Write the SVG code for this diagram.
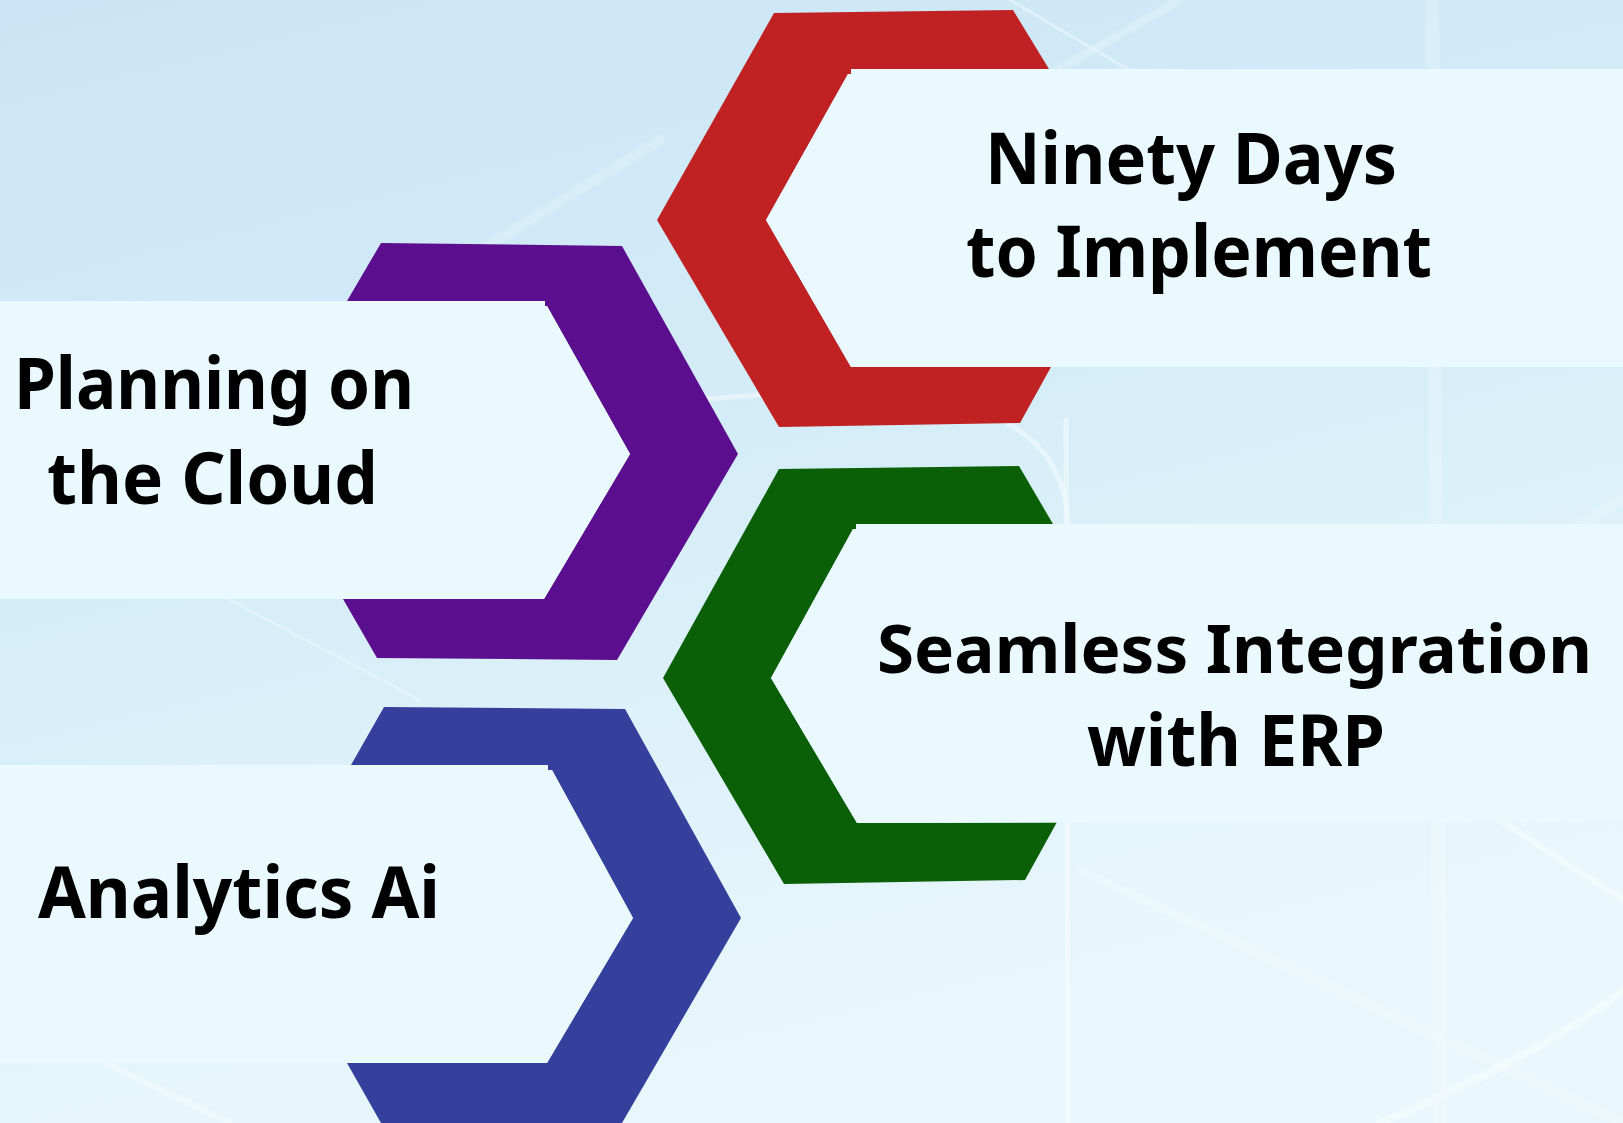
<svg xmlns="http://www.w3.org/2000/svg" width="1623" height="1123" viewBox="0 0 1623 1123">
  <defs>
    <linearGradient id="bg" x1="0" y1="0" x2="0.35" y2="1">
      <stop offset="0" stop-color="#CCE5F6"/>
      <stop offset="0.45" stop-color="#D3ECF7"/>
      <stop offset="1" stop-color="#E9F7FC"/>
    </linearGradient>
    <style>
      .band { fill: #E9F9FE; }
      .lbl { font-family: "Noto Sans", "Open Sans", "Liberation Sans", sans-serif; font-weight: 700; font-size: 72px; fill: #000000; }
      .deco { fill: none; stroke: #FFFFFF; stroke-linecap: round; }
    </style>
  </defs>

  <rect x="0" y="0" width="1623" height="1123" fill="url(#bg)"/>

  <g id="background-lines" opacity="0.55">
    <path class="deco" d="M1010 0 L1180 100" stroke-width="3" opacity="0.7"/>
    <path class="deco" d="M1040 80 L1180 0" stroke-width="8" opacity="0.4"/>
    <path class="deco" d="M400 300 L660 140" stroke-width="10" opacity="0.35"/>
    <path class="deco" d="M1432 0 L1440 1123" stroke-width="14" opacity="0.35"/>
    <path class="deco" d="M1066 420 L1068 1123" stroke-width="5" opacity="0.8"/>
    <path class="deco" d="M700 400 C 900 380, 1060 390, 1068 520" stroke-width="5" opacity="0.8"/>
    <path class="deco" d="M1380 1123 C 1480 1080, 1560 1040, 1623 990" stroke-width="8" opacity="0.7"/>
    <path class="deco" d="M1080 870 L1623 1123" stroke-width="8" opacity="0.4"/>
    <path class="deco" d="M1500 820 L1623 900" stroke-width="6" opacity="0.8"/>
    <path class="deco" d="M100 1060 L230 1123" stroke-width="6" opacity="0.7"/>
    <path class="deco" d="M230 600 L420 700" stroke-width="3" opacity="0.6"/>
    <path class="deco" d="M1620 500 L1300 700" stroke-width="10" opacity="0.3"/>
  </g>

  <g id="node-ninety-days">
    <polygon fill="#C02123" points="774,13 1013,10 1049,69 851,69 851,74 848,74 766,220 851,367 1051,367 1020,423 779,427 657,220"/>
    <polygon class="band" points="851,69 1623,69 1623,367 851,367 766,220 848,74 851,74"/>
    <text class="lbl" x="985" y="184" textLength="412" lengthAdjust="spacingAndGlyphs">Ninety Days</text>
    <text class="lbl" x="966" y="277" textLength="466" lengthAdjust="spacingAndGlyphs">to Implement</text>
  </g>

  <g id="node-planning-cloud">
    <polygon fill="#5B0F8F" points="381,243 622,246 738,454 617,660 377,658 343,599 544,599 630,454 547,306 545,306 545,301 347,301"/>
    <polygon class="band" points="0,301 545,301 545,306 547,306 630,454 544,599 0,599"/>
    <text class="lbl" x="14" y="409" textLength="400" lengthAdjust="spacingAndGlyphs">Planning on</text>
    <text class="lbl" x="47" y="504" textLength="331" lengthAdjust="spacingAndGlyphs">the Cloud</text>
  </g>

  <g id="node-seamless-integration">
    <polygon fill="#0B5F06" points="779,469 1019,466 1053,524 856,524 856,529 853,529 771,678 857,823 1057,822 1025,880 784,884 663,678"/>
    <polygon class="band" points="856,524 1623,524 1623,822 857,823 771,678 853,529 856,529"/>
    <text class="lbl" x="877" y="673" font-size="66" style="font-size:67px" textLength="715" lengthAdjust="spacingAndGlyphs">Seamless Integration</text>
    <text class="lbl" x="1087" y="766" textLength="298" lengthAdjust="spacingAndGlyphs">with ERP</text>
  </g>

  <g id="node-analytics-ai">
    <polygon fill="#353F9C" points="384,707 625,709 741,918 622,1123 381,1123 347,1063 547,1063 633,918 552,770 548,770 548,765 351,765"/>
    <polygon class="band" points="0,765 548,765 548,770 552,770 633,918 547,1063 0,1063"/>
    <text class="lbl" x="38" y="918" textLength="402" lengthAdjust="spacingAndGlyphs">Analytics Ai</text>
  </g>

  <g id="connectors"></g>
</svg>
